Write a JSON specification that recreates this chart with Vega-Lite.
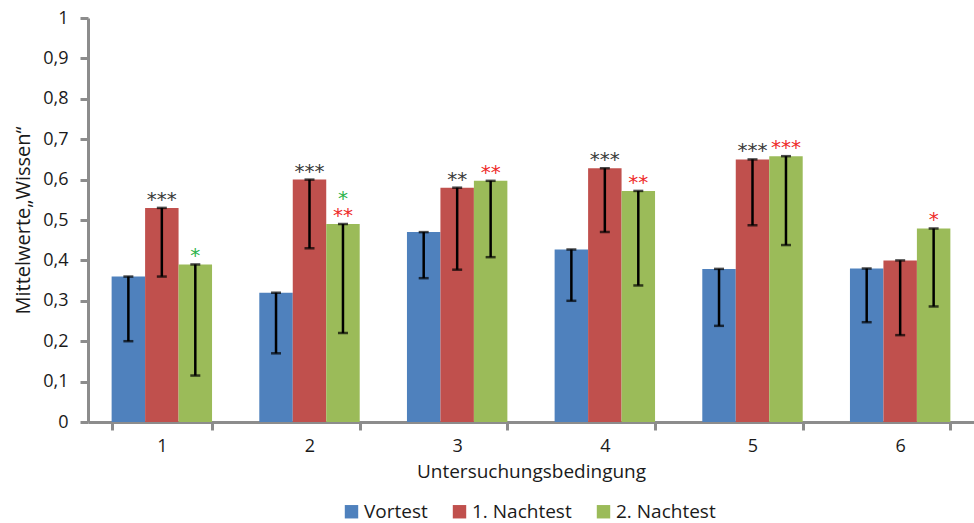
{
  "$schema": "https://vega.github.io/schema/vega-lite/v6.json",
  "width": 886,
  "height": 404,
  "autosize": "none",
  "padding": {"left": 88, "top": 18, "right": 0, "bottom": 101},
  "background": "white",
  "config": {
    "font": "Open Sans",
    "view": {"stroke": null},
    "axis": {
      "domainColor": "#8c8c8c",
      "domainWidth": 3,
      "tickColor": "#8c8c8c",
      "tickWidth": 3,
      "grid": false,
      "labelColor": "#1a1a1a",
      "titleColor": "#1a1a1a",
      "labelFontSize": 18,
      "titleFontSize": 18,
      "titleFontWeight": "normal",
      "labelFont": "Open Sans",
      "titleFont": "Open Sans"
    },
    "legend": {
      "orient": "none",
      "legendX": 254,
      "legendY": 484,
      "direction": "horizontal",
      "labelFontSize": 19,
      "labelColor": "#1a1a1a",
      "labelFont": "Open Sans",
      "symbolType": "square",
      "symbolSize": 180,
      "symbolStrokeWidth": 0,
      "columnPadding": 22,
      "labelOffset": 3,
      "title": null
    }
  },
  "datasets": {
    "bars": [
      {"g": "1", "s": "Vortest", "v": 0.36, "lo": 0.20},
      {"g": "1", "s": "1. Nachtest", "v": 0.53, "lo": 0.36},
      {"g": "1", "s": "2. Nachtest", "v": 0.39, "lo": 0.115},
      {"g": "2", "s": "Vortest", "v": 0.32, "lo": 0.17},
      {"g": "2", "s": "1. Nachtest", "v": 0.60, "lo": 0.43},
      {"g": "2", "s": "2. Nachtest", "v": 0.49, "lo": 0.22},
      {"g": "3", "s": "Vortest", "v": 0.47, "lo": 0.356},
      {"g": "3", "s": "1. Nachtest", "v": 0.58, "lo": 0.377},
      {"g": "3", "s": "2. Nachtest", "v": 0.597, "lo": 0.408},
      {"g": "4", "s": "Vortest", "v": 0.427, "lo": 0.30},
      {"g": "4", "s": "1. Nachtest", "v": 0.628, "lo": 0.47},
      {"g": "4", "s": "2. Nachtest", "v": 0.572, "lo": 0.338},
      {"g": "5", "s": "Vortest", "v": 0.379, "lo": 0.238},
      {"g": "5", "s": "1. Nachtest", "v": 0.65, "lo": 0.487},
      {"g": "5", "s": "2. Nachtest", "v": 0.658, "lo": 0.438},
      {"g": "6", "s": "Vortest", "v": 0.38, "lo": 0.247},
      {"g": "6", "s": "1. Nachtest", "v": 0.40, "lo": 0.215},
      {"g": "6", "s": "2. Nachtest", "v": 0.479, "lo": 0.286}
    ],
    "stars": [
      {"g": "1", "s": "1. Nachtest", "v": 0.53, "t": "***", "c": "k", "lvl": 0},
      {"g": "1", "s": "2. Nachtest", "v": 0.39, "t": "*", "c": "gr", "lvl": 0},
      {"g": "2", "s": "1. Nachtest", "v": 0.60, "t": "***", "c": "k", "lvl": 0},
      {"g": "2", "s": "2. Nachtest", "v": 0.49, "t": "**", "c": "r", "lvl": 0},
      {"g": "2", "s": "2. Nachtest", "v": 0.49, "t": "*", "c": "gr", "lvl": 1},
      {"g": "3", "s": "1. Nachtest", "v": 0.58, "t": "**", "c": "k", "lvl": 0},
      {"g": "3", "s": "2. Nachtest", "v": 0.597, "t": "**", "c": "r", "lvl": 0},
      {"g": "4", "s": "1. Nachtest", "v": 0.628, "t": "***", "c": "k", "lvl": 0},
      {"g": "4", "s": "2. Nachtest", "v": 0.572, "t": "**", "c": "r", "lvl": 0},
      {"g": "5", "s": "1. Nachtest", "v": 0.65, "t": "***", "c": "k", "lvl": 0},
      {"g": "5", "s": "2. Nachtest", "v": 0.658, "t": "***", "c": "r", "lvl": 0},
      {"g": "6", "s": "2. Nachtest", "v": 0.479, "t": "*", "c": "r", "lvl": 0}
    ]
  },
  "layer": [
    {
      "data": {"name": "bars"},
      "mark": {"type": "bar"},
      "encoding": {
        "x": {
          "field": "g", "type": "nominal",
          "scale": {"paddingInner": 0.32, "paddingOuter": 0.16},
          "title": "Untersuchungsbedingung",
          "axis": {"labelAngle": 0, "tickBand": "extent", "tickSize": 8, "labelPadding": 7, "titlePadding": 7, "titleFontSize": 19}
        },
        "xOffset": {"field": "s", "type": "nominal", "sort": ["Vortest", "1. Nachtest", "2. Nachtest"], "scale": {"paddingInner": 0, "paddingOuter": 0}},
        "y": {
          "field": "v", "type": "quantitative",
          "scale": {"domain": [0, 1]},
          "title": "Mittelwerte„Wissen“",
          "axis": {"values": [0, 0.1, 0.2, 0.3, 0.4, 0.5, 0.6, 0.7, 0.8, 0.9, 1], "tickSize": 8, "labelPadding": 12, "titlePadding": 9, "titleFontSize": 20,
                   "labelExpr": "replace(format(datum.value, '.1~f'), '.', ',')"}
        },
        "color": {
          "field": "s", "type": "nominal",
          "sort": ["Vortest", "1. Nachtest", "2. Nachtest"],
          "scale": {"domain": ["Vortest", "1. Nachtest", "2. Nachtest"], "range": ["#4f81bd", "#c0504d", "#9bbb59"]}
        }
      }
    },
    {
      "data": {"name": "bars"},
      "mark": {"type": "rule", "color": "black", "strokeWidth": 2.5},
      "encoding": {
        "x": {"field": "g", "type": "nominal"},
        "xOffset": {"field": "s", "type": "nominal", "sort": ["Vortest", "1. Nachtest", "2. Nachtest"]},
        "y": {"field": "v", "type": "quantitative", "title": "Mittelwerte„Wissen“"},
        "y2": {"field": "lo"}
      }
    },
    {
      "data": {"name": "bars"},
      "mark": {"type": "tick", "color": "black", "size": 10, "thickness": 2.5, "orient": "horizontal"},
      "encoding": {
        "x": {"field": "g", "type": "nominal"},
        "xOffset": {"field": "s", "type": "nominal", "sort": ["Vortest", "1. Nachtest", "2. Nachtest"]},
        "y": {"field": "v", "type": "quantitative", "title": "Mittelwerte„Wissen“"}
      }
    },
    {
      "data": {"name": "bars"},
      "mark": {"type": "tick", "color": "black", "size": 10, "thickness": 2.5, "orient": "horizontal"},
      "encoding": {
        "x": {"field": "g", "type": "nominal"},
        "xOffset": {"field": "s", "type": "nominal", "sort": ["Vortest", "1. Nachtest", "2. Nachtest"]},
        "y": {"field": "lo", "type": "quantitative", "title": "Mittelwerte„Wissen“"}
      }
    },
    {
      "data": {"name": "stars"},
      "transform": [{"filter": "datum.lvl == 0"}],
      "mark": {"type": "text", "fontSize": 20, "baseline": "alphabetic", "dy": -2, "font": "DejaVu Sans"},
      "encoding": {
        "x": {"field": "g", "type": "nominal"},
        "xOffset": {"field": "s", "type": "nominal", "sort": ["Vortest", "1. Nachtest", "2. Nachtest"]},
        "y": {"field": "v", "type": "quantitative", "title": "Mittelwerte„Wissen“"},
        "text": {"field": "t"},
        "fill": {"field": "c", "type": "nominal", "scale": {"domain": ["k", "r", "gr"], "range": ["#3a3a3a", "#ee2a2a", "#2cb34a"]}, "legend": null}
      }
    },
    {
      "data": {"name": "stars"},
      "transform": [{"filter": "datum.lvl == 1"}],
      "mark": {"type": "text", "fontSize": 20, "baseline": "alphabetic", "dy": -19, "font": "DejaVu Sans"},
      "encoding": {
        "x": {"field": "g", "type": "nominal"},
        "xOffset": {"field": "s", "type": "nominal", "sort": ["Vortest", "1. Nachtest", "2. Nachtest"]},
        "y": {"field": "v", "type": "quantitative", "title": "Mittelwerte„Wissen“"},
        "text": {"field": "t"},
        "fill": {"field": "c", "type": "nominal", "scale": {"domain": ["k", "r", "gr"], "range": ["#3a3a3a", "#ee2a2a", "#2cb34a"]}, "legend": null}
      }
    }
  ]
}
